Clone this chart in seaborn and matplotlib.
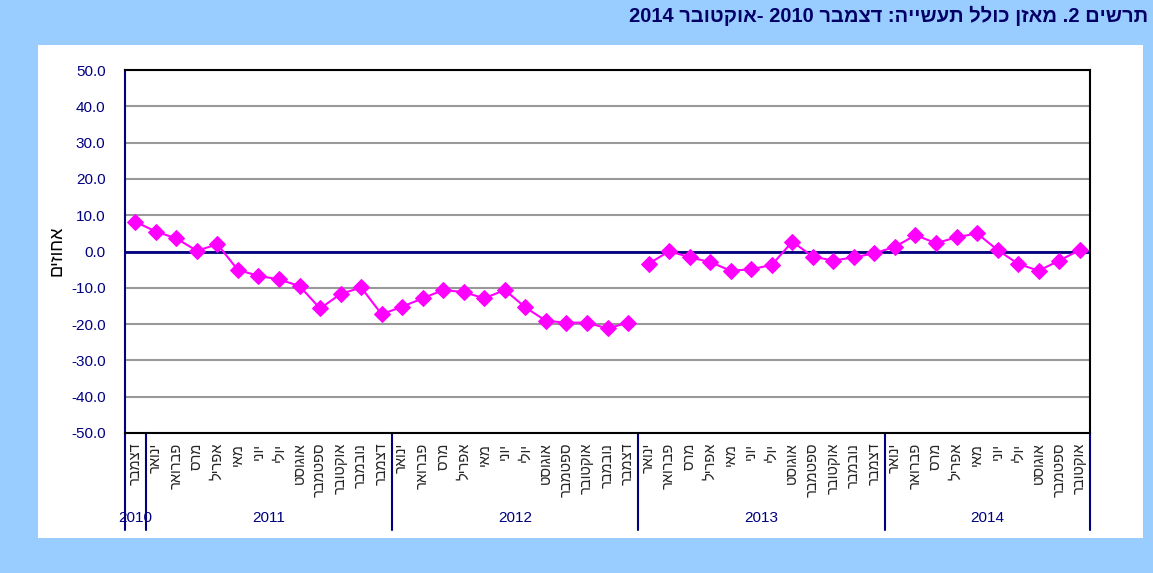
import re

import pandas as pd
import matplotlib
matplotlib.use("Agg")
import matplotlib.pyplot as plt
from matplotlib import transforms
from matplotlib.patches import Rectangle
import seaborn as sns


TITLE = "תרשים 2. מאזן כולל תעשייה: דצמבר 2010 -אוקטובר 2014"
Y_LABEL = "אחוזים"

MONTHS = [
    "ינואר", "פברואר", "מרס", "אפריל", "מאי", "יוני",
    "יולי", "אוגוסט", "ספטמבר", "אוקטובר", "נובמבר", "דצמבר",
]
YEARS = [2010, 2011, 2012, 2013, 2014]

# overall balance, percent (Dec 2010 - Oct 2014)
BALANCE_2010 = [8.2]
BALANCE_2011 = [5.5, 3.6, 0.2, 2.0, -5.1, -6.7, -7.7, -9.5, -15.7, -11.7, -9.9, -17.3]
BALANCE_2012 = [-15.2, -12.9, -10.6, -11.2, -12.9, -10.6, -15.4, -19.1, -19.6, -19.6, -21.2, -19.6]
BALANCE_2013 = [-3.4, 0.1, -1.6, -2.9, -5.3, -4.9, -3.7, 2.7, -1.4, -2.5, -1.6, -0.5]
BALANCE_2014 = [1.3, 4.5, 2.3, 3.9, 5.0, 0.4, -3.4, -5.3, -2.5, 0.4]

Y_TICKS = [-50, -40, -30, -20, -10, 0, 10, 20, 30, 40, 50]

NAVY = "#000080"
MAGENTA = "#FF00FF"
BG_BLUE = "#99CCFF"


def vis(text):
    # matplotlib has no bidi: reverse hebrew, keep digit runs left-to-right
    rev = text[::-1]
    return re.sub(r"\d+", lambda m: m.group(0)[::-1], rev)


def build_frame():
    series = {
        2010: BALANCE_2010,
        2011: BALANCE_2011,
        2012: BALANCE_2012,
        2013: BALANCE_2013,
        2014: BALANCE_2014,
    }
    rows = []
    idx = 0
    for year in YEARS:
        values = series[year]
        if year == YEARS[0]:
            labels = MONTHS[12 - len(values):]
        else:
            labels = MONTHS[:len(values)]
        for month, value in zip(labels, values):
            rows.append({
                "idx": idx,
                "year": year,
                "month": month,
                "value": value,
                # the series is broken between 2012 and 2013
                "segment": "a" if year <= 2012 else "b",
            })
            idx += 1
    return pd.DataFrame(rows)


def main():
    df = build_frame()

    sns.set_style("white")
    plt.rcParams["font.family"] = ["Liberation Sans", "DejaVu Sans"]

    W, H = 1153, 573
    fig = plt.figure(figsize=(W / 100, H / 100), dpi=100, facecolor=BG_BLUE)

    fig.patches.append(
        Rectangle(
            (38 / W, 1 - 538 / H),
            (1143 - 38) / W,
            (538 - 45) / H,
            transform=fig.transFigure,
            facecolor="white",
            edgecolor="none",
            zorder=-5,
        )
    )

    ax = fig.add_axes([125 / W, 1 - 433 / H, 965 / W, 363 / H])
    ax.set_facecolor("white")

    sns.lineplot(
        data=df,
        x="idx",
        y="value",
        units="segment",
        estimator=None,
        sort=False,
        color=MAGENTA,
        linewidth=1.5,
        marker="D",
        markersize=8,
        markeredgecolor=MAGENTA,
        legend=False,
        ax=ax,
        zorder=3,
    )

    n = len(df)
    ax.set_xlim(-0.5, n - 0.5)
    ax.set_ylim(-50, 50)

    ax.set_yticks(Y_TICKS)
    ax.set_yticklabels([f"{v:.1f}" for v in Y_TICKS], fontsize=11, color=NAVY)
    ax.tick_params(axis="y", length=0, pad=14)

    ax.set_xticks(df["idx"])
    ax.set_xticklabels([vis(m) for m in df["month"]], rotation=90, fontsize=10.5)
    ax.tick_params(axis="x", length=0, pad=7)

    ax.set_xlabel("")
    ax.set_ylabel("")

    ax.yaxis.grid(True, color="#999999", linewidth=1.5)
    ax.xaxis.grid(False)
    ax.set_axisbelow(True)
    ax.axhline(0, color=NAVY, linewidth=2, zorder=2)

    for side in ["top", "right", "bottom"]:
        ax.spines[side].set_color("black")
        ax.spines[side].set_linewidth(1.5)
    ax.spines["left"].set_color(NAVY)
    ax.spines["left"].set_linewidth(1.5)

    # year separators and year labels under the month labels
    trans = transforms.blended_transform_factory(ax.transData, ax.transAxes)
    counts = df.groupby("year").size()
    start = -0.5
    ax.plot([start, start], [0, -0.267], transform=trans, color=NAVY,
            linewidth=1.5, clip_on=False)
    for year in YEARS:
        end = start + counts[year]
        ax.plot([end, end], [0, -0.267], transform=trans, color=NAVY,
                linewidth=1.5, clip_on=False)
        ax.text((start + end) / 2, -0.234, str(year), transform=trans,
                ha="center", va="center", fontsize=11, color=NAVY)
        start = end

    fig.text(57 / W, 1 - 251 / H, vis(Y_LABEL), rotation=90,
             ha="center", va="center", fontsize=13, color="black")

    fig.text(1148 / W, 1 - 16 / H, vis(TITLE), ha="right", va="center",
             fontsize=14.5, fontweight="bold", color="#000066")

    fig.savefig("out.png", dpi=100, facecolor=fig.get_facecolor())
    plt.close(fig)


if __name__ == "__main__":
    main()
